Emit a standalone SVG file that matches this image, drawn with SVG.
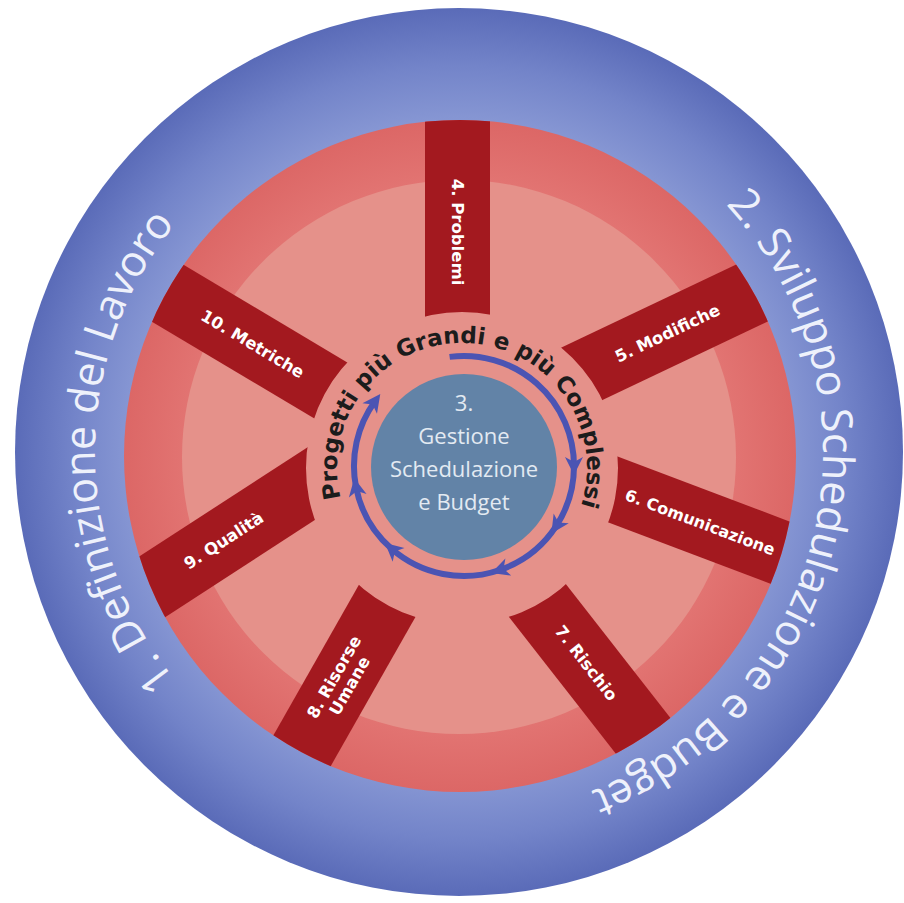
<svg xmlns="http://www.w3.org/2000/svg" width="904" height="903" viewBox="0 0 904 903">
<style>
.spoke{fill:#a3191f}
.sp{font-family:"DejaVu Sans",Verdana,sans-serif;font-weight:bold;font-size:16.5px;fill:#ffffff;text-anchor:middle}
.ring-text{font-family:"Open Sans","Liberation Sans",sans-serif;font-size:43px;fill:#eef1fb}
.center-text{font-family:"Open Sans","Liberation Sans",sans-serif;font-size:22px;fill:#e3eaf2;text-anchor:middle}
.arc-text{font-family:"DejaVu Sans",Verdana,sans-serif;font-weight:bold;font-size:23px;fill:#1c1c1c}
</style>
<defs>
<radialGradient id="blueGrad" gradientUnits="userSpaceOnUse" cx="459" cy="452" r="444">
<stop offset="0.75" stop-color="#8696d3"/>
<stop offset="0.87" stop-color="#7384c9"/>
<stop offset="1" stop-color="#5a6bb8"/>
</radialGradient>
<radialGradient id="redGrad" gradientUnits="userSpaceOnUse" cx="460" cy="456" r="336">
<stop offset="0.82" stop-color="#e27472"/>
<stop offset="1" stop-color="#dc6766"/>
</radialGradient>
<clipPath id="annulus">
<path clip-rule="evenodd" d="M124,456 a336,336 0 1,0 672,0 a336,336 0 1,0 -672,0 Z M306,468 a156,156 0 1,0 312,0 a156,156 0 1,0 -312,0 Z"/>
</clipPath>
<path id="outerPath" d="M459,816 A364,364 0 1,1 459,88 A364,364 0 1,1 459,816"/>
<path id="innerPath" d="M462,593 A125,125 0 1,1 462,343 A125,125 0 1,1 462,593"/>
<marker id="ah" markerUnits="userSpaceOnUse" markerWidth="30" markerHeight="30" viewBox="-15 -15 30 30" refX="0" refY="0" orient="auto">
<path d="M9,0 L-9,-9 L-4,0 L-9,9 Z" fill="#4b54b3"/>
</marker>
</defs>

<g id="outer-ring">
<circle cx="459" cy="452" r="444" fill="url(#blueGrad)"/>
<text class="ring-text"><textPath href="#outerPath" startOffset="25%" text-anchor="middle">1. Definizione del Lavoro</textPath></text>
<text class="ring-text"><textPath href="#outerPath" startOffset="78.6%" text-anchor="middle">2. Sviluppo Schedulazione e Budget</textPath></text>
</g>

<g id="red-ring">
<circle cx="460" cy="456" r="336" fill="url(#redGrad)"/>
<circle cx="459" cy="457" r="277" fill="#e5918a"/>
</g>

<g id="spokes" clip-path="url(#annulus)">
<g id="spoke-4" transform="translate(457.5,316) rotate(-90)">
<rect class="spoke" x="-30" y="-32.5" width="239" height="65"/>
<text class="sp" transform="translate(84,0) rotate(180)" dy="0.35em">4. Problemi</text>
</g>
<g id="spoke-5" transform="translate(582.5,373.5) rotate(-25.4)">
<rect class="spoke" x="-30" y="-32.5" width="236" height="65"/>
<text class="sp" transform="translate(94,0)" dy="0.35em">5. Modifiche</text>
</g>
<g id="spoke-6" transform="translate(613,489.5) rotate(20.7)">
<rect class="spoke" x="-30" y="-32.5" width="228" height="65"/>
<text class="sp" transform="translate(93,0)" dy="0.35em" style="font-size:16px">6. Comunicazione</text>
</g>
<g id="spoke-7" transform="translate(537,600) rotate(52)">
<rect class="spoke" x="-30" y="-32.5" width="215" height="65"/>
<text class="sp" transform="translate(80,0)" dy="0.35em">7. Rischio</text>
</g>
<g id="spoke-8" transform="translate(386,603) rotate(119.6)">
<rect class="spoke" x="-30" y="-32.5" width="211" height="65"/>
<text class="sp" transform="translate(90,0) rotate(180)"><tspan x="0" y="-3">8. Risorse</tspan><tspan x="0" y="15">Umane</tspan></text>
</g>
<g id="spoke-9" transform="translate(307.5,486) rotate(147)">
<rect class="spoke" x="-30" y="-32.5" width="231" height="65"/>
<text class="sp" transform="translate(100,0) rotate(180)" dy="0.35em">9. Qualità</text>
</g>
<g id="spoke-10" transform="translate(330,390) rotate(-149.2)">
<rect class="spoke" x="-30" y="-32.5" width="237" height="65"/>
<text class="sp" transform="translate(90,0) rotate(180)" dy="0.35em">10. Metriche</text>
</g>
</g>

<g id="center-node">
<circle cx="464" cy="467" r="93" fill="#6283a7"/>
<text class="center-text"><tspan x="464" y="411">3.</tspan><tspan x="464" y="444">Gestione</tspan><tspan x="464" y="477">Schedulazione</tspan><tspan x="464" y="510">e Budget</tspan></text>
</g>

<g id="connectors">
<path d="M449.6,356.9 A110,110 0 0,1 574,466 A110,110 0 0,1 556.3,525.9 A110,110 0 0,1 499.8,570 A110,110 0 0,1 391.8,549 A110,110 0 0,1 356,487 A110,110 0 0,1 375,401.3" fill="none" stroke="#4b54b3" stroke-width="6" marker-mid="url(#ah)" marker-end="url(#ah)"/>
</g>

<g id="arc-label">
<text class="arc-text"><textPath href="#innerPath" startOffset="50.5%" text-anchor="middle">Progetti più Grandi e più Complessi</textPath></text>
</g>
</svg>
